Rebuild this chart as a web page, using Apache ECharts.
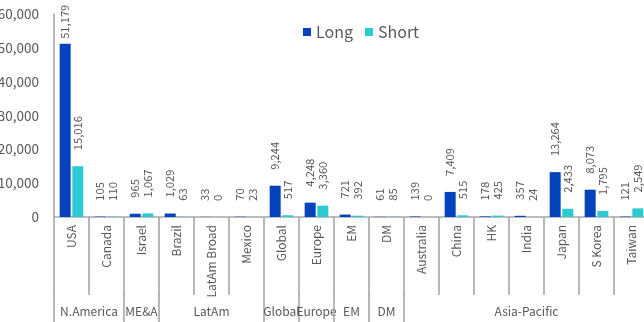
<!DOCTYPE html>
<html>
<head>
<meta charset="utf-8">
<script src="https://cdn.jsdelivr.net/npm/echarts@6/dist/echarts.min.js"></script>
<style>
  html, body { margin: 0; padding: 0; background: #ffffff; }
  #chart { width: 644px; height: 322px; }
</style>
</head>
<body>
<div id="chart"></div>
<script>
// Positions (long / short) by market
const categories = ['USA', 'Canada', 'Israel', 'Brazil', 'LatAm Broad', 'Mexico', 'Global', 'Europe', 'EM', 'DM',
  'Australia', 'China', 'HK', 'India', 'Japan', 'S Korea', 'Taiwan'];
const longValues = [51179, 105, 965, 1029, 33, 70, 9244, 4248, 721, 61, 139, 7409, 178, 357, 13264, 8073, 121];
const shortValues = [15016, 110, 1067, 63, 0, 23, 517, 3360, 392, 85, 0, 515, 425, 24, 2433, 1795, 2549];
// Regional grouping of the markets above: name and number of markets
const groupNames = ['N.America', 'ME&A', 'LatAm', 'Global', 'Europe', 'EM', 'DM', 'Asia-Pacific'];
const groupSizes = [2, 1, 3, 1, 1, 1, 1, 7];
const yTicks = [0, 10000, 20000, 30000, 40000, 50000, 60000];

const FONT = "'Noto Sans CJK JP', 'Noto Sans', sans-serif";
const TEXT = '#595959';
const AXIS = '#a6a6a6';
const YMAX = yTicks[yTicks.length - 1];
const TICK_LEN = 78;

const fmt = v => Number(v).toLocaleString('en-US');

function barLabel(v) {
  // tall bars keep their label tight so it stays inside the canvas
  return v > 0.8 * YMAX ? { value: v, label: { distance: 5 } } : v;
}

const chart = echarts.init(document.getElementById('chart'), null, { renderer: 'canvas' });

const labelStyle = {
  show: true,
  position: 'top',
  distance: 16,
  rotate: 90,
  align: 'left',
  verticalAlign: 'middle',
  fontFamily: FONT,
  fontSize: 11.2,
  color: TEXT,
  formatter: p => fmt(p.value)
};

chart.setOption({
  animation: false,
  textStyle: { fontFamily: FONT },
  legend: {
    left: 298,
    top: 19,
    itemWidth: 8,
    itemHeight: 8,
    itemGap: 12,
    icon: 'rect',
    textStyle: { fontFamily: FONT, fontSize: 16, color: TEXT },
    data: ['Long', 'Short']
  },
  grid: { left: 54, top: 14, width: 595, height: 203, containLabel: false, outerBoundsMode: 'none' },
  xAxis: {
    type: 'category',
    data: categories,
    axisLine: { show: true, lineStyle: { color: AXIS, width: 1.6 } },
    axisTick: { show: true, interval: 0, length: TICK_LEN, lineStyle: { color: AXIS, width: 1.6 } },
    axisLabel: { interval: 0, rotate: 90, margin: 8, fontFamily: FONT, fontSize: 12, color: TEXT }
  },
  yAxis: {
    type: 'value',
    min: yTicks[0],
    max: YMAX,
    interval: yTicks[1] - yTicks[0],
    splitLine: { show: false },
    axisTick: { show: false },
    axisLine: { show: true, lineStyle: { color: AXIS, width: 1.6 } },
    axisLabel: { margin: 15, fontFamily: FONT, fontSize: 13.5, color: TEXT, formatter: v => fmt(v) }
  },
  series: [
    {
      name: 'Long',
      type: 'bar',
      barWidth: 11,
      barGap: '15%',
      itemStyle: { color: '#0343bb' },
      label: labelStyle,
      data: longValues.map(barLabel)
    },
    {
      name: 'Short',
      type: 'bar',
      barWidth: 11,
      itemStyle: { color: '#2dcbd1' },
      label: labelStyle,
      data: shortValues.map(barLabel)
    }
  ]
});

// Region row under the market labels: separators and centred region names
const c0 = chart.convertToPixel({ xAxisIndex: 0 }, categories[0]);
const c1 = chart.convertToPixel({ xAxisIndex: 0 }, categories[1]);
const bandW = c1 - c0;
const yBase = chart.convertToPixel({ yAxisIndex: 0 }, 0);
const yTop = yBase + TICK_LEN;
const graphics = [];
let start = 0;
groupNames.forEach((name, gi) => {
  const x0 = chart.convertToPixel({ xAxisIndex: 0 }, categories[start]) - bandW / 2;
  const x1 = x0 + groupSizes[gi] * bandW;
  graphics.push({
    type: 'line', silent: true,
    shape: { x1: x0, y1: yTop - 1, x2: x0, y2: 322 },
    style: { stroke: AXIS, lineWidth: 1.6 }
  });
  if (gi === groupNames.length - 1) {
    graphics.push({
      type: 'line', silent: true,
      shape: { x1: x1, y1: yTop - 1, x2: x1, y2: 322 },
      style: { stroke: AXIS, lineWidth: 1.6 }
    });
  }
  graphics.push({
    type: 'text', silent: true,
    x: (x0 + x1) / 2, y: 311.5,
    style: { text: name, fill: TEXT, font: '12px ' + FONT, align: 'center', verticalAlign: 'middle' }
  });
  start += groupSizes[gi];
});
chart.setOption({ graphic: graphics });
</script>
</body>
</html>
